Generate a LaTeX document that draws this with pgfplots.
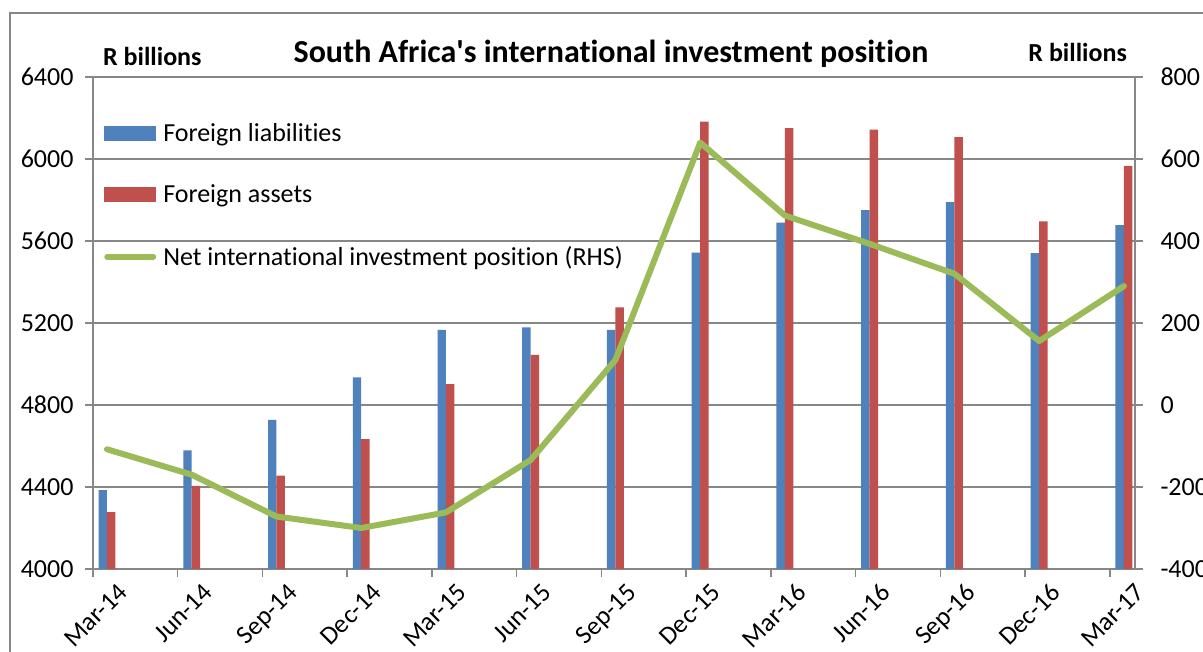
\documentclass[border=0pt]{standalone}
\usepackage{fontspec}
\setmainfont{Carlito}[Ligatures={NoCommon,TeXOff}]
\usepackage{pgfplots}
\pgfplotsset{compat=1.18}
\usepackage{pgfplotstable}

\definecolor{blueb}{HTML}{4F81BD}
\definecolor{redb}{HTML}{C0504D}
\definecolor{greenl}{HTML}{9BBB59}
\definecolor{gridc}{HTML}{878787}

\pgfplotstableread{
x lia ast net
0 4385 4278 -108
1 4579 4405 -170
2 4728 4455 -272
3 4935 4634 -300
4 5166 4902 -262
5 5179 5044 -134
6 5167 5276 110
7 5543 6182 640
8 5689 6151 462
9 5751 6143 393
10 5789 6107 320
11 5541 5696 156
12 5677 5966 290
}\data

\begin{document}
\begin{tikzpicture}[x=1pt,y=1pt]
\useasboundingbox (0pt,0pt) rectangle (1203pt,652pt);
\fill[white] (0pt,0pt) rectangle (1203pt,652pt);
\draw[gridc, line width=1.5pt] (10pt,639pt) rectangle (1230pt,-30pt);

\pgfplotsset{
  common/.style={
    at={(93pt,83pt)}, anchor=south west,
    scale only axis, width=1042pt, height=492pt,
    xmin=-0.165, xmax=12.13,
    axis line style={gridc, line width=1.5pt, -},
    tick style={gridc, line width=1.5pt},
    major tick length=8pt,
    tick align=outside,
    tick label style={font=\fontsize{26}{30}\selectfont},
    /pgf/number format/assume math mode=true,
    /pgf/number format/1000 sep={},
    clip=true,
  }
}

\begin{axis}[common,
  axis x line*=bottom, axis y line*=left,
  every outer x axis line/.append style={-},
  every outer y axis line/.append style={-},
  ymin=4000, ymax=6400, ytick={4000,4400,...,6400},
  ymajorgrids, grid style={gridc, line width=1.5pt},
  xtick={-0.165,0.835,1.835,2.835,3.835,4.835,5.835,6.835,7.835,8.835,9.835,10.835,11.835},
  xticklabels={Mar-14,Jun-14,Sep-14,Dec-14,Mar-15,Jun-15,Sep-15,Dec-15,Mar-16,Jun-16,Sep-16,Dec-16,Mar-17},
  xticklabel style={rotate=45, anchor=north east, xshift=17pt, yshift=-17pt},
  yticklabel style={xshift=-8pt},
  legend style={draw=none, fill=none, at={(0.0106,0.908)}, anchor=north west,
    font=\fontsize{26}{30}\selectfont, row sep=40pt, inner sep=0pt,
    nodes={inner sep=1pt},
    /tikz/every odd column/.append style={column sep=6pt}},
  legend cell align=left,
]
\addplot[ybar, bar width=0.1, bar shift=-0.05, fill=blueb, draw=none,
  legend image code/.code={\fill[blueb] (0pt,-7.5pt) rectangle (52pt,7.5pt);}]
  table[x=x, y=lia]{\data};
\addlegendentry{Foreign liabilities}
\addplot[ybar, bar width=0.1, bar shift=0.05, fill=redb, draw=none,
  legend image code/.code={\fill[redb] (0pt,-7.5pt) rectangle (52pt,7.5pt);}]
  table[x=x, y=ast]{\data};
\addlegendentry{Foreign assets}
\addlegendimage{legend image code/.code={\draw[greenl, line width=6pt, line cap=round] (3pt,0pt) -- (49pt,0pt);}}
\addlegendentry{Net international investment position (RHS)}
\end{axis}

\begin{axis}[common,
  axis x line=none, axis y line*=right,
  every outer y axis line/.append style={-},
  ymin=-400, ymax=800, ytick={-400,-200,...,800},
  yticklabel style={xshift=14pt},
]
\addplot[greenl, line width=6pt, line join=round, line cap=round, no marks]
  table[x=x, y=net]{\data};
\end{axis}

\node[font=\bfseries\fontsize{32}{36}\selectfont, anchor=base] at (611pt,589pt) {South Africa's international investment position};
\node[font=\bfseries\fontsize{26}{30}\selectfont, anchor=base west, inner sep=0pt] at (103pt,586pt) {R billions};
\node[font=\bfseries\fontsize{26}{30}\selectfont, anchor=base east, inner sep=0pt] at (1127pt,590pt) {R billions};
\end{tikzpicture}
\end{document}
